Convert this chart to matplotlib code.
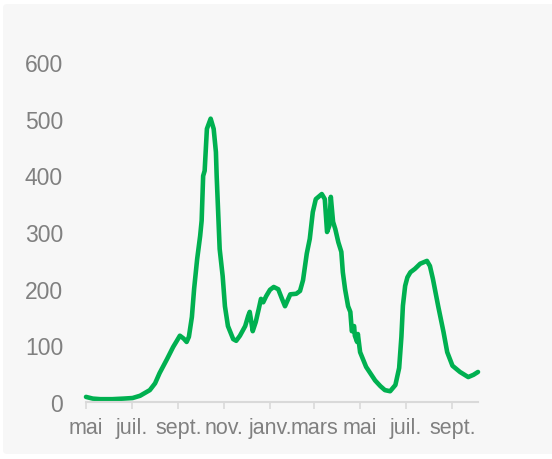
import matplotlib
matplotlib.use("Agg")
import matplotlib.pyplot as plt
from matplotlib.patches import FancyBboxPatch
import pandas as pd

# valeurs
dates = ['2020-05-01', '2020-05-10', '2020-05-20', '2020-06-05', '2020-06-20',
         '2020-07-02', '2020-07-12', '2020-07-25', '2020-08-01', '2020-08-07',
         '2020-08-17', '2020-08-25', '2020-08-30', '2020-09-03', '2020-09-08',
         '2020-09-12', '2020-09-15', '2020-09-19', '2020-09-22', '2020-09-26',
         '2020-09-30', '2020-10-02', '2020-10-04', '2020-10-06', '2020-10-09',
         '2020-10-14', '2020-10-18', '2020-10-21', '2020-10-22', '2020-10-26',
         '2020-10-30', '2020-11-02', '2020-11-06', '2020-11-13', '2020-11-17',
         '2020-11-22', '2020-11-29', '2020-12-03', '2020-12-05', '2020-12-08',
         '2020-12-09', '2020-12-13', '2020-12-17', '2020-12-20', '2020-12-23',
         '2020-12-27', '2021-01-01', '2021-01-06', '2021-01-12', '2021-01-17',
         '2021-01-21', '2021-01-28', '2021-02-05', '2021-02-10', '2021-02-14',
         '2021-02-19', '2021-02-23', '2021-02-27', '2021-03-03', '2021-03-11',
         '2021-03-15', '2021-03-18', '2021-03-21', '2021-03-23', '2021-03-26',
         '2021-03-29', '2021-04-02', '2021-04-06', '2021-04-08', '2021-04-11',
         '2021-04-15', '2021-04-18', '2021-04-20', '2021-04-23', '2021-04-24',
         '2021-04-27', '2021-04-28', '2021-05-01', '2021-05-05', '2021-05-09',
         '2021-05-14', '2021-05-21', '2021-05-28', '2021-06-03', '2021-06-10',
         '2021-06-17', '2021-06-22', '2021-06-25', '2021-06-27', '2021-06-30',
         '2021-07-03', '2021-07-07', '2021-07-13', '2021-07-20', '2021-07-29',
         '2021-08-02', '2021-08-06', '2021-08-13', '2021-08-20', '2021-08-25',
         '2021-09-01', '2021-09-11', '2021-09-22', '2021-09-29', '2021-10-05']
values = [9, 6, 5, 5, 6,
          7, 11, 21, 33, 51,
          76, 97, 108, 117, 112,
          106, 115, 150, 200, 252,
          293, 320, 399, 408, 482,
          500, 482, 441, 399, 270,
          222, 169, 134, 111, 108,
          117, 134, 152, 159, 134,
          125, 141, 164, 182, 176,
          187, 198, 203, 199, 182,
          169, 190, 191, 196, 215,
          262, 288, 335, 358, 367,
          358, 300, 311, 362, 318,
          305, 282, 265, 229, 199,
          169, 159, 125, 134, 117,
          106, 120, 88, 75, 62,
          52, 38, 28, 21, 19,
          30, 60, 115, 170, 205,
          220, 229, 235, 244, 249,
          240, 217, 169, 124, 88,
          64, 53, 44, 48, 53]

tick_dates = ['2020-05-01', '2020-07-01', '2020-09-01', '2020-11-01', '2021-01-01',
              '2021-03-01', '2021-05-01', '2021-07-01', '2021-09-01']
tick_labels = ['mai', 'juil.', 'sept.', 'nov.', 'janv.', 'mars', 'mai', 'juil.', 'sept.']
y_ticks = [0, 100, 200, 300, 400, 500, 600]

plt.rcParams['font.family'] = ['Liberation Sans', 'DejaVu Sans']
gris = '#808080'

fig = plt.figure(figsize=(5.52, 4.60), dpi=100, facecolor='white')
# fond gris du cadre
fond = FancyBboxPatch((3 / 552, 5 / 460), 560 / 552, 450 / 460,
                      boxstyle='round,pad=0,rounding_size=0.008',
                      transform=fig.transFigure, facecolor='#f7f7f7',
                      edgecolor='none', zorder=-10)
fig.patches.append(fond)

ax = fig.add_axes([86 / 552, 57 / 460, 392 / 552, 340 / 460])
ax.set_facecolor('none')
ax.set_zorder(5)

x = pd.to_datetime(dates)
ax.plot(x, values, color='#00b050', linewidth=3.3, solid_joinstyle='round',
        solid_capstyle='round', clip_on=False)

ax.set_xlim(pd.Timestamp('2020-05-01'), pd.Timestamp('2021-10-05'))
ax.set_ylim(0, 600)
ax.set_xticks(pd.to_datetime(tick_dates))
ax.set_xticklabels(tick_labels)
ax.set_yticks(y_ticks)
ax.set_yticklabels([str(v) for v in y_ticks])

for s in ['top', 'right', 'left']:
    ax.spines[s].set_visible(False)
ax.spines['bottom'].set_color('#d9d9d9')
ax.spines['bottom'].set_linewidth(1.5)
ax.tick_params(axis='x', colors='#d9d9d9', labelcolor=gris, length=5, width=1.2,
               labelsize=15.5, pad=6)
ax.tick_params(axis='y', length=0, labelcolor=gris, labelsize=16.5, pad=16.5)

fig.savefig('out.png', dpi=100, facecolor='white')
